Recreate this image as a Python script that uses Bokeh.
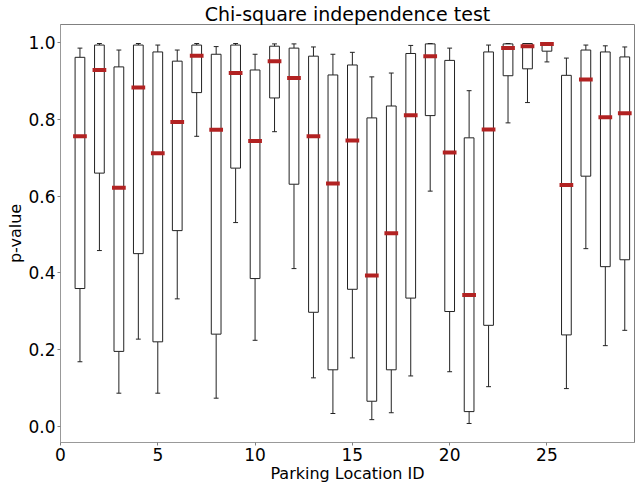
from bokeh.plotting import figure
from bokeh.models import ColumnDataSource, FixedTicker, PrintfTickFormatter
from bokeh.embed import file_html
from bokeh.resources import INLINE

ids = list(range(1, 30))
whisker_low = [0.168, 0.458, 0.086, 0.227, 0.086, 0.332, 0.756, 0.073, 0.531, 0.224,
               0.768, 0.411, 0.126, 0.033, 0.178, 0.017, 0.035, 0.131, 0.613, 0.142,
               0.007, 0.103, 0.791, 0.844, 0.950, 0.098, 0.463, 0.210, 0.250]
q1 = [0.359, 0.660, 0.195, 0.450, 0.220, 0.510, 0.870, 0.240, 0.673, 0.385,
      0.856, 0.631, 0.297, 0.147, 0.357, 0.065, 0.147, 0.334, 0.810, 0.299,
      0.038, 0.263, 0.914, 0.932, 0.978, 0.238, 0.652, 0.416, 0.434]
medians = [0.756, 0.929, 0.622, 0.883, 0.712, 0.793, 0.966, 0.773, 0.921, 0.744,
           0.952, 0.908, 0.756, 0.633, 0.745, 0.393, 0.503, 0.811, 0.965, 0.714,
           0.342, 0.774, 0.986, 0.991, 0.997, 0.629, 0.904, 0.806, 0.816]
q3 = [0.962, 0.994, 0.937, 0.994, 0.976, 0.952, 0.994, 0.970, 0.994, 0.929,
      0.991, 0.986, 0.965, 0.916, 0.942, 0.804, 0.835, 0.972, 0.997, 0.954,
      0.752, 0.976, 0.997, 0.998, 0.998, 0.915, 0.981, 0.976, 0.963]
whisker_high = [0.986, 0.998, 0.981, 0.998, 0.994, 0.981, 0.998, 0.990, 0.998, 0.970,
                0.997, 0.997, 0.989, 0.970, 0.975, 0.911, 0.921, 0.993, 0.998, 0.986,
                0.875, 0.994, 0.998, 0.998, 0.998, 0.960, 0.994, 0.992, 0.989]
x_ticks = [0, 5, 10, 15, 20, 25]
y_ticks = [0.0, 0.2, 0.4, 0.6, 0.8, 1.0]
title_text = "Chi-square independence test"

X_MIN, X_MAX = 0, 29.5
Y_MIN, Y_MAX = -0.0426, 1.0476

box_w = 0.5
cap_w = 0.25
src = ColumnDataSource(dict(
    x=ids,
    lo=whisker_low, q1=q1, med=medians, q3=q3, hi=whisker_high,
    x0=[i - box_w / 2 for i in ids], x1=[i + box_w / 2 for i in ids],
    c0=[i - cap_w / 2 for i in ids], c1=[i + cap_w / 2 for i in ids],
))

FONT = "DejaVu Sans"
p = figure(width=638, height=486, x_range=(X_MIN, X_MAX), y_range=(Y_MIN, Y_MAX),
           output_backend="svg", toolbar_location=None, title=title_text)
p.min_border_left = 60
p.min_border_right = 4
p.min_border_top = 0
p.min_border_bottom = 44
p.grid.visible = False
p.outline_line_color = "#808080"
p.outline_line_width = 1

p.title.align = "center"
p.title.text_font = FONT
p.title.text_font_size = "19px"
p.title.text_font_style = "normal"
p.title.text_color = "black"
p.title.standoff = 0
p.title.offset = 0

for ax in (p.xaxis[0], p.yaxis[0]):
    ax.axis_line_color = "#999999"
    ax.major_tick_line_color = "#808080"
    ax.major_tick_out = 3
    ax.major_tick_in = 0
    ax.minor_tick_line_color = None
    ax.major_label_text_font = FONT
    ax.major_label_text_font_size = "17px"
    ax.major_label_text_color = "black"
    ax.axis_label_text_font = FONT
    ax.axis_label_text_font_size = "16px"
    ax.axis_label_text_font_style = "normal"
    ax.axis_label_text_color = "black"
    ax.major_label_standoff = 2
    ax.axis_label_standoff = 0

p.xaxis.axis_label = "Parking Location ID"
p.yaxis.axis_label = "p-value"
p.xaxis.ticker = FixedTicker(ticks=x_ticks)
p.yaxis.ticker = FixedTicker(ticks=y_ticks)
p.yaxis.formatter = PrintfTickFormatter(format="%.1f")

LC = "#222222"
# whiskers
p.segment(x0="x", y0="q3", x1="x", y1="hi", source=src, line_color=LC, line_width=1)
p.segment(x0="x", y0="lo", x1="x", y1="q1", source=src, line_color=LC, line_width=1)
# caps
p.segment(x0="c0", y0="hi", x1="c1", y1="hi", source=src, line_color=LC, line_width=1)
p.segment(x0="c0", y0="lo", x1="c1", y1="lo", source=src, line_color=LC, line_width=1)
# boxes
p.quad(left="x0", right="x1", bottom="q1", top="q3", source=src,
       fill_color="white", line_color=LC, line_width=1)
# medians
p.segment(x0="x0", y0="med", x1="x1", y1="med", source=src,
          line_color="#b22222", line_width=4, line_cap="square")

open("out.html", "w").write(file_html(p, INLINE))
